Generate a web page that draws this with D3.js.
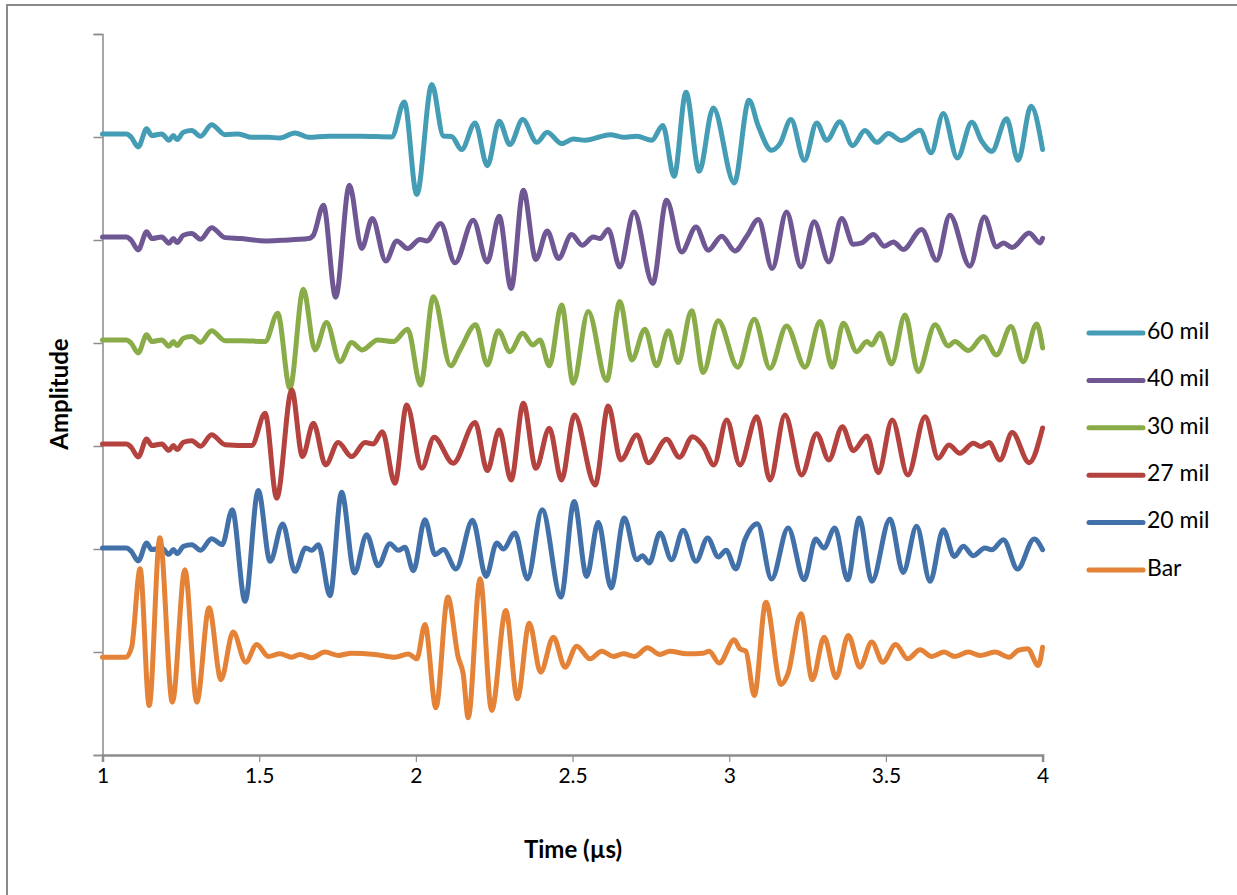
<!DOCTYPE html>
<html>
<head>
<meta charset="utf-8">
<script src="https://cdn.jsdelivr.net/npm/d3@7"></script>
<style>
  html, body { margin: 0; padding: 0; background: #fff; }
  svg { display: block; font-family: Lato, "Open Sans", sans-serif; }
</style>
</head>
<body>
<svg id="chart" width="1237" height="895"></svg>
<script>
// Ultrasonic A-scan traces, offset vertically; time in µs, amplitude in mV.

// Shared onset wiggle seen at the start of the plate traces.
const onset = [
  [1.000, 0], [1.077, 0], [1.091, -3], [1.114, -12.6], [1.141, 4.9], [1.157, -1.6],
  [1.189, 0], [1.212, -6.2], [1.226, -1.6], [1.238, -5.5], [1.258, 1.6], [1.285, 3.2],
  [1.313, -2.3], [1.348, 9.0], [1.391, -0.7]
];

const mil60 = [
  [1.433, 0], [1.476, -3.3], [1.529, -3.3], [1.566, -3.9], [1.614, 1.0], [1.657, -3.3],
  [1.721, -2.3], [1.827, -2.3], [1.923, -2.9], [1.963, 31.1], [2.003, -58.9], [2.051, 47.9],
  [2.088, -2.0], [2.114, -2.5], [2.146, -15.2], [2.189, 10.7], [2.228, -30.8], [2.266, 12.2],
  [2.300, -10.4], [2.341, 13.9], [2.386, -8.2], [2.419, 1.6], [2.465, -9.4], [2.502, -4.9],
  [2.540, -6.2], [2.620, -0.7], [2.662, -3.3], [2.705, -2.3], [2.753, -6.2], [2.788, 8.1],
  [2.824, -41.2], [2.862, 40.4], [2.904, -36.3], [2.949, 25.2], [3.016, -47.6], [3.063, 32.6],
  [3.093, 7.4], [3.135, -15.9], [3.162, -9.4], [3.197, 13.9], [3.240, -25.6], [3.279, 10.7],
  [3.311, -6.2], [3.353, 11.7], [3.394, -11.4], [3.433, 3.2], [3.471, -8.2], [3.508, 0.3],
  [3.550, -6.5], [3.609, 3.5], [3.644, -18.4], [3.683, 19.7], [3.728, -23.3], [3.774, 11.3],
  [3.806, -7.2], [3.838, -16.9], [3.885, 14.6], [3.922, -25.6], [3.963, 26.8], [4.000, -15.2]
];

const mil40 = [
  [1.444, -1.6], [1.519, -3.9], [1.572, -3.2], [1.657, -1.6], [1.673, 1.7], [1.705, 30.8],
  [1.744, -58.5], [1.788, 50.2], [1.827, -11.3], [1.861, 17.9], [1.904, -23.3], [1.939, -3.9],
  [1.974, -11.3], [2.013, -2.5], [2.035, -3.9], [2.079, 13.0], [2.125, -25.2], [2.183, 16.2],
  [2.228, -24.3], [2.266, 20.1], [2.304, -50.1], [2.343, 45.3], [2.383, -21.9], [2.419, 5.8],
  [2.455, -21.0], [2.497, 2.3], [2.531, -8.1], [2.566, 0], [2.588, -1.6], [2.614, 7.2],
  [2.651, -29.1], [2.696, 24.3], [2.756, -45.2], [2.800, 35.6], [2.848, -14.6], [2.894, 9.7],
  [2.933, -12.9], [2.976, 0.7], [3.018, -13.6], [3.056, 0.7], [3.093, 16.9], [3.137, -30.7],
  [3.183, 24.3], [3.229, -29.1], [3.271, 14.6], [3.318, -24.3], [3.359, 17.9], [3.396, -7.1],
  [3.423, -5.8], [3.460, 2.3], [3.495, -9.0], [3.524, -4.9], [3.555, -12.2], [3.614, 7.2],
  [3.662, -22.6], [3.704, 21.1], [3.768, -28.4], [3.814, 19.4], [3.853, -9.7], [3.875, -5.8],
  [3.903, -10.3], [3.957, 3.9], [3.992, -5.8], [4.000, -1.3]
];

const mil30 = [
  [1.444, -0.7], [1.519, -1.6], [1.559, 25.9], [1.598, -46.9], [1.641, 49.2], [1.678, -9.7],
  [1.715, 16.8], [1.758, -21.1], [1.795, -2.6], [1.829, -9.7], [1.878, 0], [1.928, -1.6],
  [1.974, 10.4], [2.015, -43.7], [2.056, 42.0], [2.111, -25.2], [2.141, -9.7], [2.191, 14.6],
  [2.228, -24.3], [2.263, 9.0], [2.300, -11.4], [2.341, 6.5], [2.373, -4.9], [2.396, 0],
  [2.426, -25.2], [2.465, 34.0], [2.502, -42.0], [2.550, 27.5], [2.609, -39.5], [2.651, 37.2],
  [2.689, -19.4], [2.731, 10.4], [2.768, -25.2], [2.806, 9.0], [2.837, -22.0], [2.880, 28.4],
  [2.917, -31.7], [2.965, 18.7], [3.027, -26.5], [3.080, 20.1], [3.130, -27.5], [3.183, 13.6],
  [3.242, -26.5], [3.290, 17.8], [3.329, -26.5], [3.364, 16.2], [3.407, -11.4], [3.439, -1.6],
  [3.455, -4.9], [3.481, 6.5], [3.518, -23.3], [3.561, 24.3], [3.603, -30.8], [3.657, 14.6],
  [3.699, -5.8], [3.720, -1.6], [3.763, -10.4], [3.811, 3.2], [3.853, -14.6], [3.899, 12.9],
  [3.938, -21.1], [3.981, 15.5], [4.000, -7.8]
];

const mil27 = [
  [1.476, -1.6], [1.519, 29.8], [1.556, -52.7], [1.604, 52.4], [1.638, -12.3], [1.673, 20.1],
  [1.712, -20.4], [1.752, 1.3], [1.795, -12.3], [1.838, 1.3], [1.864, 0], [1.893, 11.9],
  [1.933, -38.2], [1.971, 37.9], [2.019, -23.6], [2.058, 6.5], [2.119, -18.7], [2.189, 20.7],
  [2.228, -25.9], [2.266, 13.6], [2.304, -35.0], [2.343, 39.5], [2.383, -23.6], [2.426, 15.2],
  [2.465, -35.0], [2.506, 28.2], [2.572, -39.8], [2.614, 36.9], [2.654, -15.5], [2.705, 8.7],
  [2.742, -18.2], [2.800, 4.6], [2.841, -12.9], [2.883, 7.1], [2.917, -1.9], [2.951, -20.4],
  [2.992, 23.3], [3.034, -20.4], [3.088, 26.5], [3.130, -35.0], [3.178, 28.2], [3.231, -30.1],
  [3.279, 10.0], [3.318, -15.5], [3.361, 16.8], [3.396, -6.5], [3.439, 7.8], [3.476, -27.9],
  [3.520, 23.3], [3.570, -30.1], [3.625, 26.5], [3.667, -13.9], [3.701, -1.0], [3.736, -9.0],
  [3.779, 0.7], [3.803, -2.6], [3.829, 1.3], [3.864, -15.5], [3.903, 11.0], [3.957, -18.2],
  [4.000, 15.5]
];

const mil20 = [
  [1.382, 3.2], [1.414, 37.2], [1.455, -51.8], [1.497, 55.9], [1.535, -13.0], [1.575, 23.3],
  [1.614, -22.7], [1.648, 0], [1.668, -2.3], [1.689, 3.2], [1.726, -46.3], [1.763, 54.0],
  [1.804, -24.3], [1.843, 12.9], [1.880, -17.2], [1.917, 4.2], [1.944, -2.3], [1.965, 0.6],
  [1.992, -22.0], [2.029, 27.5], [2.061, -6.5], [2.088, -1.6], [2.128, -20.4], [2.181, 26.8],
  [2.224, -27.6], [2.258, 4.9], [2.279, -1.0], [2.316, 14.6], [2.356, -30.1], [2.403, 37.2],
  [2.463, -47.6], [2.505, 45.2], [2.545, -27.6], [2.582, 24.9], [2.623, -38.8], [2.665, 29.1],
  [2.705, -11.4], [2.723, -7.5], [2.745, -14.6], [2.779, 14.6], [2.816, -11.4], [2.853, 17.1],
  [2.894, -13.0], [2.931, 9.7], [2.965, -8.7], [2.990, -2.3], [3.021, -20.4], [3.050, 8.0],
  [3.090, 23.6], [3.135, -30.1], [3.188, 19.4], [3.239, -30.8], [3.276, 8.7], [3.302, 0],
  [3.337, 19.4], [3.378, -30.8], [3.415, 29.1], [3.455, -32.4], [3.513, 28.2], [3.555, -23.7],
  [3.598, 21.0], [3.641, -32.4], [3.683, 17.8], [3.718, -8.2], [3.747, 1.6], [3.779, -7.5],
  [3.816, 0], [3.838, -1.7], [3.875, 8.1], [3.920, -20.4], [3.973, 8.7], [4.000, -1.7]
];

const bar = [
  [1.000, 0], [1.075, 0], [1.093, 9.7], [1.120, 85.8], [1.149, -46.9], [1.183, 115.9],
  [1.223, -43.7], [1.263, 84.9], [1.301, -43.7], [1.340, 48.0], [1.378, -21.9], [1.417, 24.3],
  [1.457, -4.9], [1.492, 12.3], [1.529, 0.7], [1.566, 3.3], [1.604, 0], [1.630, 2.6],
  [1.668, -0.6], [1.710, 4.9], [1.752, 1.7], [1.795, 3.9], [1.870, 2.6], [1.933, 0],
  [1.976, 3.1], [2.003, -1.6], [2.029, 31.7], [2.064, -49.1], [2.102, 58.3], [2.135, 0],
  [2.151, -16.1], [2.167, -58.8], [2.205, 76.1], [2.242, -51.7], [2.287, 45.3], [2.324, -40.4],
  [2.362, 33.0], [2.398, -14.6], [2.439, 19.4], [2.476, -9.7], [2.513, 10.7], [2.556, -1.6],
  [2.593, 5.8], [2.630, 0.7], [2.662, 3.3], [2.699, 0.7], [2.739, 9.1], [2.779, 2.6],
  [2.811, 5.8], [2.864, 3.3], [2.917, 3.9], [2.936, 5.8], [2.968, -5.8], [3.016, 16.9],
  [3.034, 8.2], [3.053, 5.8], [3.080, -37.2], [3.117, 53.4], [3.165, -26.5], [3.188, -15.5],
  [3.229, 42.1], [3.265, -21.9], [3.303, 19.4], [3.341, -20.0], [3.380, 21.1], [3.417, -9.7],
  [3.455, 14.6], [3.490, -4.9], [3.531, 12.3], [3.570, -1.6], [3.609, 7.2], [3.646, 0.7],
  [3.686, 4.9], [3.720, 0.7], [3.763, 4.9], [3.800, 1.7], [3.848, 4.9], [3.893, 0],
  [3.922, 6.5], [3.952, 8.2], [3.986, -8.1], [4.000, 9.7]
];

const seriesNames = ["60 mil", "40 mil", "30 mil", "27 mil", "20 mil", "Bar"];
const seriesColors = ["#449db5", "#6f5794", "#89ac48", "#b4423e", "#4271aa", "#e48337"];
const traceOffsets = [603, 503, 403, 302, 201, 95];   // mV added to each trace
const xTicks = [1, 1.5, 2, 2.5, 3, 3.5, 4];
const yTicks = [0, 100, 200, 300, 400, 500, 600, 700];

const traces = [
  onset.concat(mil60),
  onset.concat(mil40),
  onset.concat(mil30),
  onset.concat(mil27),
  onset.filter(d => d[0] < 1.36).concat(mil20),
  bar
];

const svg = d3.select("#chart");

// Outer chart frame
svg.append("rect")
  .attr("x", 7).attr("y", 5).attr("width", 1240).attr("height", 900)
  .attr("fill", "#fff").attr("stroke", "#8a8a8a").attr("stroke-width", 2);

const x = d3.scaleLinear().domain([1, 4]).range([102.5, 1042.6]);
const y = d3.scaleLinear().domain([0, 700]).range([755, 34]);

const axisColor = "#8c8c8c";

// Y axis: ticks only, no labels
const yAxis = svg.append("g")
  .attr("transform", `translate(${x(1)},0)`)
  .call(d3.axisLeft(y).tickValues(yTicks).tickSize(9).tickFormat(""));
yAxis.select(".domain").attr("stroke", axisColor).attr("stroke-width", 1.5);
yAxis.selectAll(".tick line").attr("stroke", axisColor).attr("stroke-width", 1.5);

// X axis
const xAxis = svg.append("g")
  .attr("transform", `translate(0,${y(0)})`)
  .call(d3.axisBottom(x).tickValues(xTicks).tickSize(7).tickPadding(6)
    .tickFormat(d => String(d)));
xAxis.select(".domain").attr("stroke", axisColor).attr("stroke-width", 2.5);
xAxis.selectAll(".tick line").attr("stroke", axisColor).attr("stroke-width", 1.2);
xAxis.selectAll(".tick text")
  .attr("fill", "#000").attr("font-size", 21)
  .attr("font-family", "Lato, sans-serif");

// Axis titles
svg.append("text")
  .attr("x", 573).attr("y", 852)
  .attr("text-anchor", "middle").attr("dominant-baseline", "middle")
  .attr("font-size", 24).attr("font-weight", "bold").attr("fill", "#000")
  .text("Time (µs)");

svg.append("text")
  .attr("transform", "translate(62,394) rotate(-90)")
  .attr("text-anchor", "middle").attr("dominant-baseline", "middle")
  .attr("font-size", 24).attr("font-weight", "bold").attr("fill", "#000")
  .text("Amplitude");

// Traces
const line = d3.line()
  .x(d => x(d[0]))
  .y(d => y(d[1] + d[2]))
  .curve(d3.curveMonotoneX);

traces.forEach((pts, i) => {
  svg.append("path")
    .datum(pts.map(p => [p[0], p[1], traceOffsets[i]]))
    .attr("fill", "none")
    .attr("stroke", seriesColors[i])
    .attr("stroke-width", 5)
    .attr("stroke-linejoin", "round")
    .attr("stroke-linecap", "round")
    .attr("d", line);
});

// Legend
const legend = svg.append("g");
seriesNames.forEach((name, i) => {
  const ly = 333 + i * 47.4;
  legend.append("line")
    .attr("x1", 1089).attr("x2", 1143).attr("y1", ly).attr("y2", ly)
    .attr("stroke", seriesColors[i]).attr("stroke-width", 5)
    .attr("stroke-linecap", "round");
  legend.append("text")
    .attr("x", 1147).attr("y", ly)
    .attr("dominant-baseline", "middle")
    .attr("font-size", 23).attr("fill", "#000")
    .text(name);
});
</script>
</body>
</html>
